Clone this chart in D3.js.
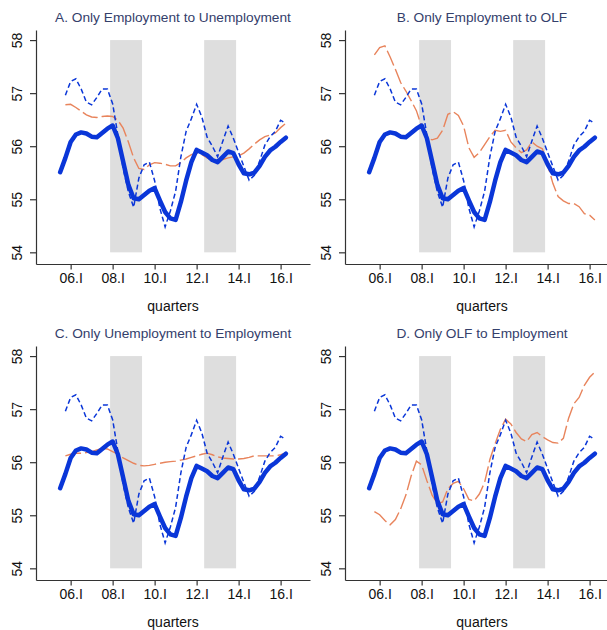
<!DOCTYPE html>
<html>
<head>
<meta charset="utf-8">
<script src="https://d3js.org/d3.v7.min.js"></script>
<style>
  body { margin: 0; background: #fff; }
  text { font-family: "Liberation Sans", Arial, sans-serif; }
</style>
</head>
<body>
<svg id="chart" width="607" height="630"></svg>
<script>
// quarters 2005Q3 .. 2016Q2
const quarters = d3.range(44).map(i => 2005.5 + i * 0.25);

const xTickValues = [2006, 2008, 2010, 2012, 2014, 2016];
const xTickLabels = ["06.I", "08.I", "10.I", "12.I", "14.I", "16.I"];
const yTickValues = [54, 55, 56, 57, 58];

// shaded periods (start, end)
const recessions = [[2007.88, 2009.40], [2012.36, 2013.88]];

const panelTitles = [
  "A. Only Employment to Unemployment",
  "B. Only Employment to OLF",
  "C. Only Unemployment to Employment",
  "D. Only OLF to Employment"
];

// actual series (thick solid)
const actual = [55.51, 55.78, 56.08, 56.22, 56.26, 56.24, 56.18, 56.17, 56.25, 56.33,
  56.39, 56.15, 55.71, 55.27, 55.02, 55.00, 55.08, 55.16, 55.21, 54.98,
  54.76, 54.64, 54.61, 54.95, 55.35, 55.70, 55.93, 55.88, 55.83, 55.74,
  55.70, 55.80, 55.90, 55.87, 55.66, 55.49, 55.47, 55.50, 55.63, 55.80,
  55.92, 55.99, 56.08, 56.16];

// short-dashed blue series
const dashed = [null, 56.96, 57.22, 57.27, 57.08, 56.83, 56.78, 56.92, 57.08, 57.08,
  56.80, 56.21, 55.58, 55.14, 54.85, 55.40, 55.65, 55.70, 55.35, 54.83,
  54.48, 54.78, 55.15, 55.80, 56.28, 56.52, 56.79, 56.55, 56.17, 56.00,
  55.80, 56.10, 56.38, 56.15, 55.88, 55.62, 55.36, 55.45, 55.72, 56.02,
  56.18, 56.28, 56.49, 56.43];

// counterfactual series, one per panel
const onlyEU = [null, 56.78, 56.79, 56.73, 56.66, 56.59, 56.55, 56.54, 56.56, 56.57,
  56.56, 56.49, 56.34, 56.08, 55.78, 55.58, 55.56, 55.65, 55.69, 55.68,
  55.66, 55.63, 55.63, 55.69, 55.78, 55.84, 55.87, 55.84, 55.78, 55.73,
  55.73, 55.75, 55.78, 55.80, 55.82, 55.87, 55.95, 56.04, 56.12, 56.18,
  56.21, 56.25, 56.35, 56.43];

const onlyEN = [null, 57.72, 57.86, 57.89, 57.68, 57.45, 57.20, 57.04, 56.86, 56.67,
  56.37, 56.16, 56.12, 56.15, 56.30, 56.60, 56.65, 56.58, 56.38, 55.97,
  55.79, 55.88, 56.03, 56.18, 56.30, 56.28, 56.30, 56.08, 55.97, 55.88,
  55.93, 56.08, 56.00, 55.95, 55.65, 55.30, 55.05, 54.97, 54.92, 54.92,
  54.86, 54.73, 54.70, 54.61];

const onlyUE = [null, 56.12, 56.15, 56.17, 56.17, 56.18, 56.20, 56.23, 56.26, 56.25,
  56.20, 56.15, 56.08, 56.03, 55.98, 55.94, 55.93, 55.94, 55.96, 55.98,
  56.00, 56.01, 56.02, 56.04, 56.06, 56.09, 56.12, 56.15, 56.17, 56.14,
  56.10, 56.08, 56.07, 56.06, 56.06, 56.07, 56.09, 56.12, 56.12, 56.12,
  56.12, 56.12, 56.14, 56.17];

const onlyNE = [null, 55.07, 55.01, 54.90, 54.82, 54.92, 55.12, 55.38, 55.74, 56.02,
  55.95, 55.65, 55.38, 55.22, 55.25, 55.50, 55.60, 55.64, 55.50, 55.30,
  55.27, 55.40, 55.62, 56.05, 56.35, 56.62, 56.81, 56.72, 56.56, 56.44,
  56.39, 56.52, 56.56, 56.48, 56.42, 56.37, 56.36, 56.45, 56.83, 57.10,
  57.22, 57.45, 57.60, 57.70];

const counterfactuals = [onlyEU, onlyEN, onlyUE, onlyNE];
const panelOffsets = [[0, 0], [309, 0], [0, 316], [309, 316]];

const blue = "#0a36d8";
const orange = "#e8845c";

const x = d3.scaleLinear().domain([2004.35, 2017.40]).range([36, 310]);
const y = d3.scaleLinear().domain([53.78, 58.19]).range([264, 30]);

const line = d3.line()
  .defined(d => d[1] != null)
  .x(d => x(d[0]))
  .y(d => y(d[1]));

const svg = d3.select("#chart");

panelTitles.forEach((title, p) => {
  const g = svg.append("g")
    .attr("transform", `translate(${panelOffsets[p][0]},${panelOffsets[p][1]})`);

  // shading
  g.selectAll("rect.rec").data(recessions).enter().append("rect")
    .attr("class", "rec")
    .attr("x", d => x(d[0]))
    .attr("width", d => x(d[1]) - x(d[0]))
    .attr("y", y(58))
    .attr("height", y(54) - y(58))
    .attr("fill", "#dedede");

  // axes
  const yAxis = g.append("g")
    .attr("transform", `translate(${x.range()[0]},0)`)
    .call(d3.axisLeft(y).tickValues(yTickValues).tickSize(6).tickSizeOuter(0).tickFormat(d3.format("d")));
  yAxis.selectAll("text")
    .attr("x", null).attr("dy", null)
    .attr("transform", "translate(-19,0) rotate(-90)")
    .attr("text-anchor", "middle")
    .attr("dominant-baseline", "central");

  const xAxis = g.append("g")
    .attr("transform", `translate(0,${y.range()[0]})`)
    .call(d3.axisBottom(x).tickValues(xTickValues).tickSize(5.5).tickPadding(3.5).tickSizeOuter(0)
      .tickFormat((d, i) => xTickLabels[i]));

  [yAxis, xAxis].forEach(a => {
    a.select(".domain").attr("stroke", "#333").attr("stroke-width", 1.2);
    a.selectAll(".tick line").attr("stroke", "#333").attr("stroke-width", 1.2);
    a.selectAll("text").attr("font-size", 14).attr("fill", "#111")
      .attr("font-family", '"Liberation Sans", Arial, sans-serif');
  });

  g.append("text")
    .attr("x", 173).attr("y", 310.5)
    .attr("text-anchor", "middle")
    .attr("font-size", 14)
    .attr("fill", "#111")
    .text("quarters");

  g.append("text")
    .attr("x", 173).attr("y", 22)
    .attr("text-anchor", "middle")
    .attr("font-size", 13.7)
    .attr("fill", "#34406b")
    .text(title);

  // series
  g.append("path")
    .datum(quarters.map((t, i) => [t, counterfactuals[p][i]]))
    .attr("d", line)
    .attr("fill", "none")
    .attr("stroke", orange)
    .attr("stroke-width", 1.4)
    .attr("stroke-dasharray", "16,4");

  g.append("path")
    .datum(quarters.map((t, i) => [t, dashed[i]]))
    .attr("d", line)
    .attr("fill", "none")
    .attr("stroke", blue)
    .attr("stroke-width", 1.5)
    .attr("stroke-dasharray", "5,3");

  g.append("path")
    .datum(quarters.map((t, i) => [t, actual[i]]))
    .attr("d", line)
    .attr("fill", "none")
    .attr("stroke", blue)
    .attr("stroke-width", 4.5)
    .attr("stroke-linejoin", "round")
    .attr("stroke-linecap", "round");
});
</script>
</body>
</html>
